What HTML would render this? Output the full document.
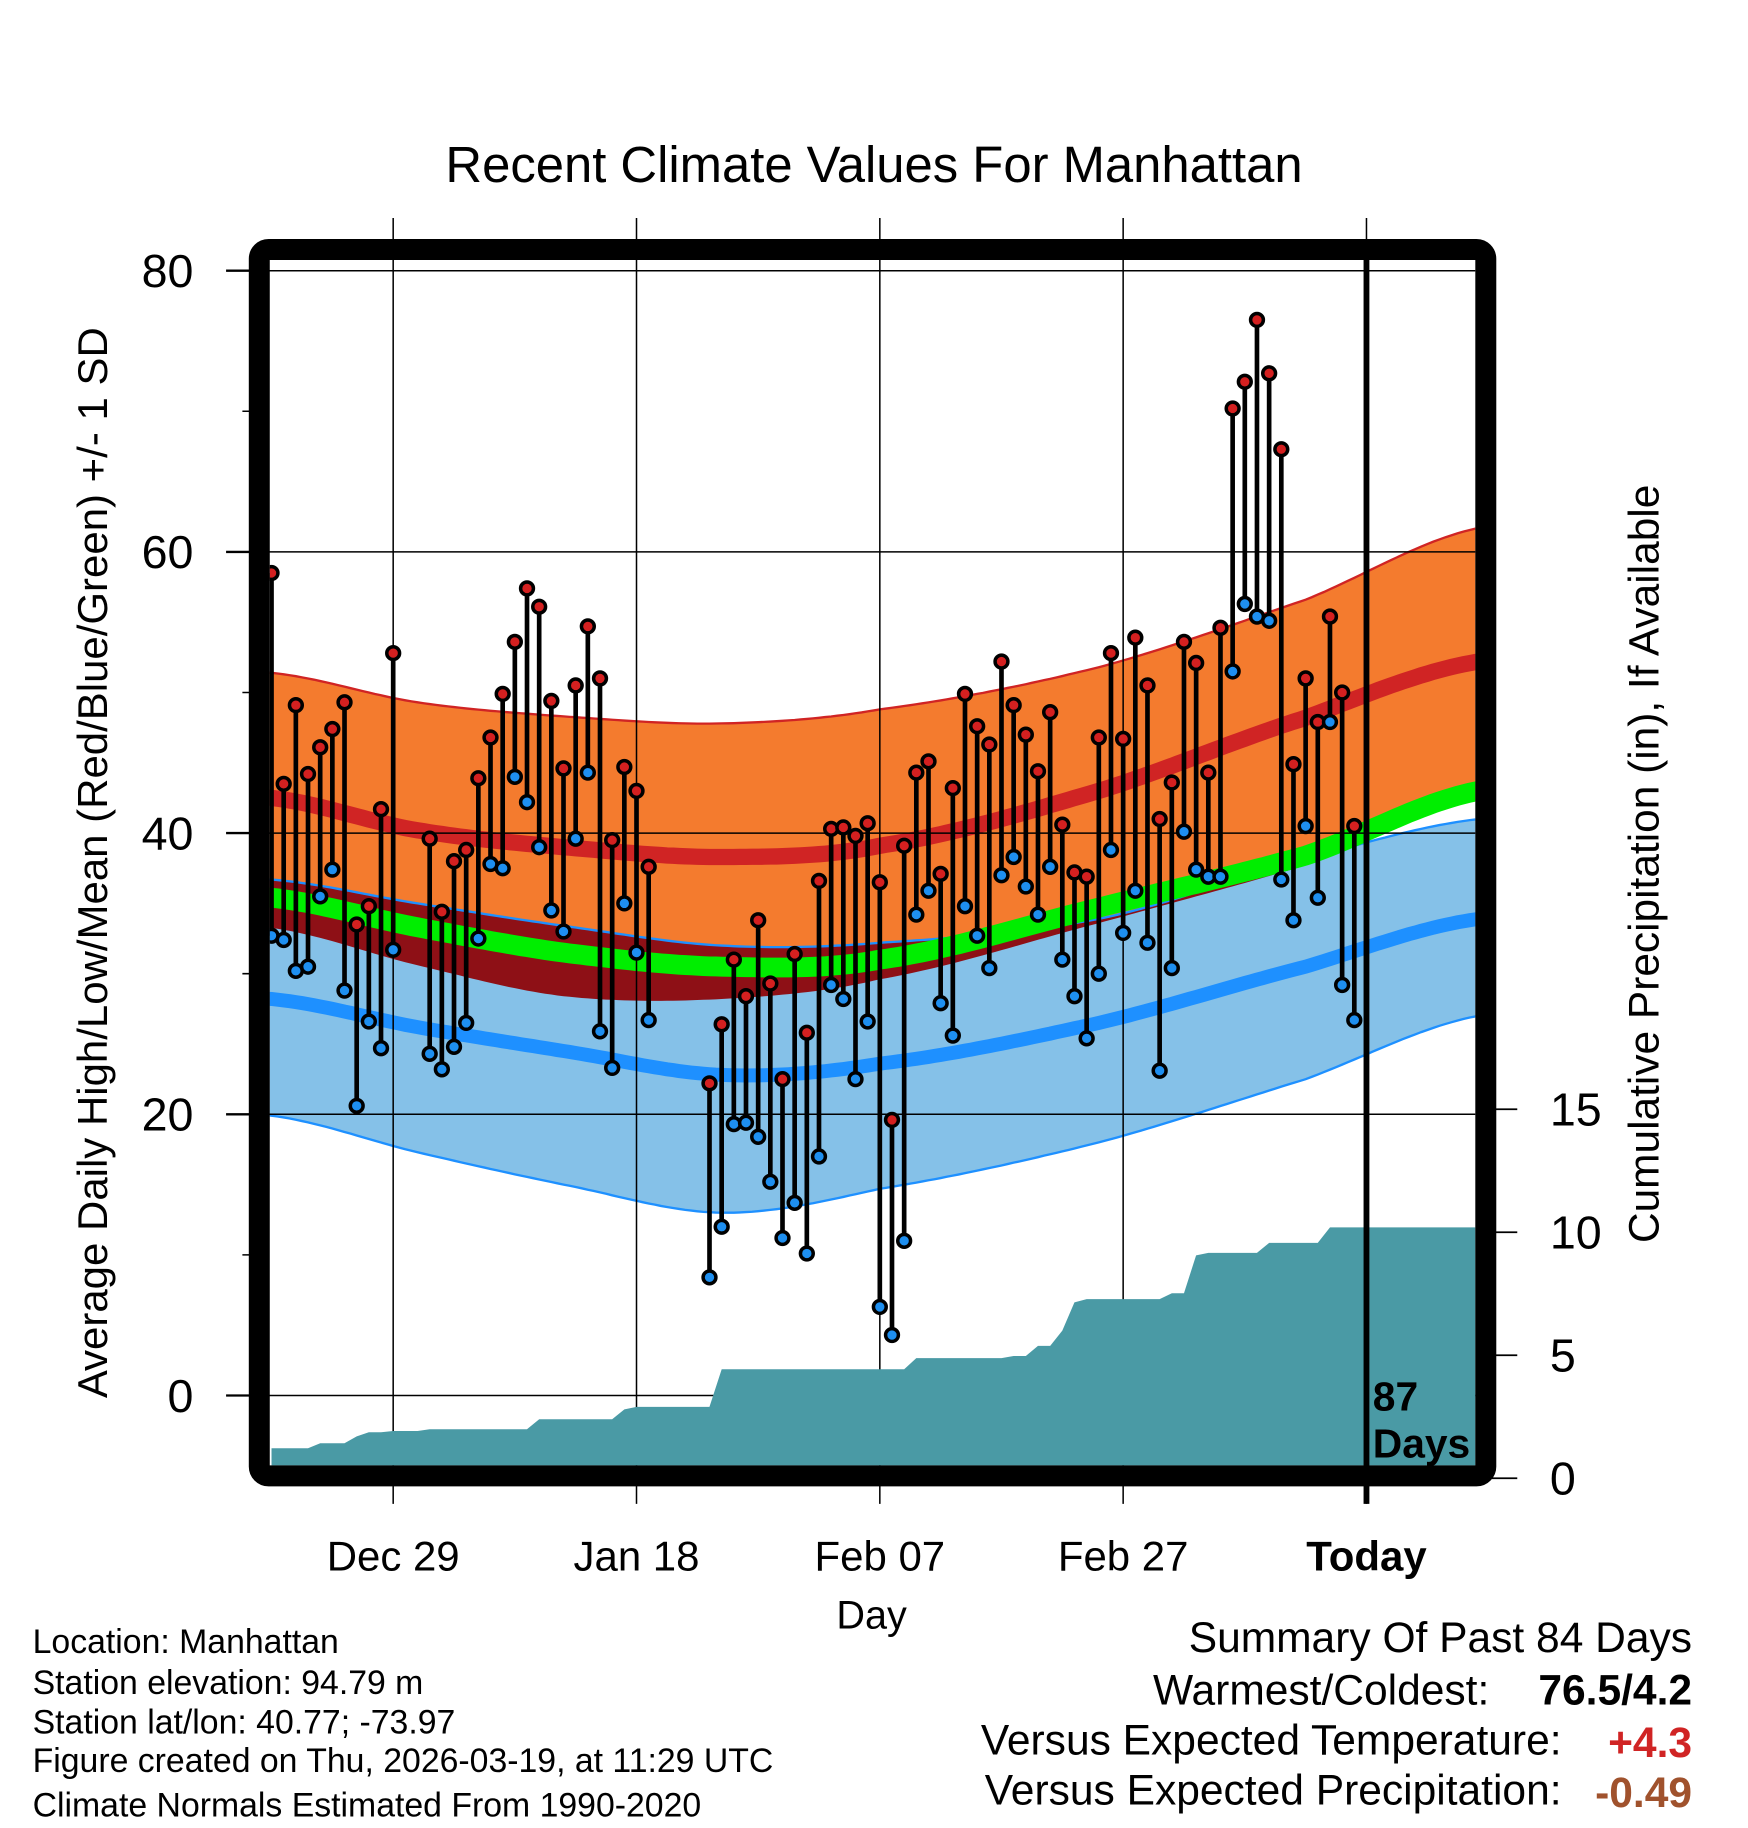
<!DOCTYPE html>
<html><head><meta charset="utf-8"><style>
html,body{margin:0;padding:0;background:#fff;}
svg{display:block;font-family:"Liberation Sans",Arial,sans-serif;}
</style></head><body>
<svg id="chart" width="1748" height="1828" viewBox="0 0 1500 1568" preserveAspectRatio="none" xmlns="http://www.w3.org/2000/svg">
<defs><clipPath id="plotClip"><rect x="231.5" y="223" width="1034.5" height="1034"/></clipPath></defs>
<rect width="1500" height="1568" fill="#fff"/>
<text x="750" y="156" font-size="43.6" text-anchor="middle">Recent Climate Values For Manhattan</text>
<g id="bands" clip-path="url(#plotClip)"></g>
<g id="grid"></g>
<g id="precip" clip-path="url(#plotClip)"></g>
<g id="obs" clip-path="url(#plotClip)"></g>
<rect x="222.5" y="214" width="1052.5" height="1052" rx="8" fill="none" stroke="#000" stroke-width="18"/>
<g id="axes"></g>
<text transform="translate(92,740) rotate(-90)" font-size="36" text-anchor="middle">Average Daily High/Low/Mean (Red/Blue/Green) +/- 1 SD</text>
<text transform="translate(1423,741) rotate(-90)" font-size="36.4" text-anchor="middle">Cumulative Precipitation (in), If Available</text>
<text x="748" y="1397" font-size="34" text-anchor="middle">Day</text>
<text x="1178" y="1210" font-size="35" font-weight="bold">87</text>
<text x="1178" y="1250" font-size="35" font-weight="bold">Days</text>
<g font-size="29">
<text x="28" y="1418">Location: Manhattan</text>
<text x="28" y="1453">Station elevation: 94.79 m</text>
<text x="28" y="1487">Station lat/lon: 40.77; -73.97</text>
<text x="28" y="1520">Figure created on Thu, 2026-03-19, at 11:29 UTC</text>
<text x="28" y="1558">Climate Normals Estimated From 1990-2020</text>
</g>
<g font-size="36.5" text-anchor="end">
<text x="1452" y="1417">Summary Of Past 84 Days</text>
<text x="1278" y="1462">Warmest/Coldest:</text>
<text x="1452" y="1462" font-weight="bold">76.5/4.2</text>
<text x="1340" y="1505">Versus Expected Temperature:</text>
<text x="1452" y="1507" font-weight="bold" fill="#d02424">+4.3</text>
<text x="1340" y="1548">Versus Expected Precipitation:</text>
<text x="1452" y="1550" font-weight="bold" fill="#a0522d">-0.49</text>
</g>
</svg>
<script>
var highs=[58.5,43.5,49.1,44.2,46.1,47.4,49.3,33.5,34.8,41.7,52.8,null,null,39.6,34.4,38,38.8,43.9,46.8,49.9,53.6,57.4,56.1,49.4,44.6,50.5,54.7,51,39.5,44.7,43,37.6,null,null,null,null,22.2,26.4,31,28.4,33.8,29.3,22.5,31.4,25.8,36.6,40.3,40.4,39.8,40.7,36.5,19.6,39.1,44.3,45.1,37.1,43.2,49.9,47.6,46.3,52.2,49.1,47,44.4,48.6,40.6,37.2,36.9,46.8,52.8,46.7,53.9,50.5,41,43.6,53.6,52.1,44.3,54.6,70.2,72.1,76.5,72.7,67.3,44.9,51,47.9,55.4,50,40.5];
var lows=[32.7,32.4,30.2,30.5,35.5,37.4,28.8,20.6,26.6,24.7,31.7,null,null,24.3,23.2,24.8,26.5,32.5,37.8,37.5,44,42.2,39,34.5,33,39.6,44.3,25.9,23.3,35,31.5,26.7,null,null,null,null,8.4,12,19.3,19.4,18.4,15.2,11.2,13.7,10.1,17,29.2,28.2,22.5,26.6,6.3,4.3,11,34.2,35.9,27.9,25.6,34.8,32.7,30.4,37,38.3,36.2,34.2,37.6,31,28.4,25.4,30,38.8,32.9,35.9,32.2,23.1,30.4,40.1,37.4,36.9,36.9,51.5,56.3,55.4,55.1,36.7,33.8,40.5,35.4,47.9,29.2,26.7];
var precip=[1.22,1.22,1.22,1.22,1.42,1.42,1.42,1.7,1.87,1.87,1.92,1.92,1.92,1.99,1.99,1.99,1.99,1.99,1.99,1.99,1.99,1.99,2.4,2.4,2.4,2.4,2.4,2.4,2.4,2.8,2.9,2.9,2.9,2.9,2.9,2.9,2.9,4.43,4.43,4.43,4.43,4.43,4.43,4.43,4.43,4.43,4.43,4.43,4.43,4.43,4.43,4.43,4.43,4.88,4.88,4.88,4.88,4.88,4.88,4.88,4.88,4.97,4.97,5.38,5.38,6.0,7.15,7.28,7.28,7.28,7.28,7.28,7.28,7.28,7.52,7.52,9.06,9.16,9.16,9.16,9.16,9.16,9.57,9.57,9.57,9.57,9.57,10.2,10.2,10.2,10.2,10.2,10.2,10.2,10.2,10.2,10.2,10.2,10.2,10.2];
var normDays=[0,12,24,37,50,68,85,99.2];
var highPlus=[51.4,49.3,48.3,47.8,48.8,51.8,56.6,61.7];
var highMean=[42.5,40.2,39.0,38.3,39.1,43.0,48.2,52.2];
var avgMean=[35.4,33.3,31.5,30.5,31.0,34.7,38.4,43.0];
var lowPlus=[36.7,35.0,33.4,32.0,32.2,33.9,38.1,41.0];
var highMinus=[33.25,30.6,28.4,28.2,29.6,33.6,37.7,42.3];
var lowMean=[28.2,26.2,24.5,22.8,23.6,26.5,30.5,33.9];
var lowMinus=[19.9,17.3,15.0,13.0,14.7,18.0,22.5,27.0];
var tempTicks=[0,20,40,60,80];
var tempTickLabels=["0","20","40","60","80"];
var minorTicks=[10,30,50,70];
var precipTicks=[0,5,10,15];
var precipTickLabels=["0","5","10","15"];
var dateTickDays=[10,30,50,70,90];
var dateTickLabels=["Dec 29","Jan 18","Feb 07","Feb 27","Today"];
var todayDay=90;

var NS="http://www.w3.org/2000/svg";
function xS(d){return 233+10.44*d;}
function yT(t){return 1197-12.06*t;}
function yP(p){return 1268-21.1*p;}
function mk(tag,attrs,parent){var e=document.createElementNS(NS,tag);for(var k in attrs)e.setAttribute(k,attrs[k]);parent.appendChild(e);return e;}
function interp(arr,d){
  var n=normDays.length,i=0;
  while(i<n-2&&d>normDays[i+1])i++;
  var t=(d-normDays[i])/(normDays[i+1]-normDays[i]);
  var p0=arr[Math.max(i-1,0)],p1=arr[i],p2=arr[i+1],p3=arr[Math.min(i+2,n-1)];
  return 0.5*((2*p1)+(-p0+p2)*t+(2*p0-5*p1+4*p2-p3)*t*t+(-p0+3*p1-3*p2+p3)*t*t*t);
}
var samples=[];for(var d=-1;d<=100;d+=0.5)samples.push(d);
function linePts(arr){return samples.map(function(d){return xS(d).toFixed(1)+","+yT(interp(arr,d)).toFixed(1);});}
function bandPath(topF,botF){
  var top=samples.map(function(d){return xS(d).toFixed(1)+","+yT(topF(d)).toFixed(1);});
  var bot=samples.slice().reverse().map(function(d){return xS(d).toFixed(1)+","+yT(botF(d)).toFixed(1);});
  return "M"+top.join("L")+"L"+bot.join("L")+"Z";
}
var bands=document.getElementById("bands");
var e;
e=mk("path",{d:bandPath(function(d){return interp(highPlus,d);},function(d){return interp(highMinus,d);}),fill:"#f47b2e"},bands);


e=mk("path",{d:bandPath(function(d){return interp(lowPlus,d);},function(d){return interp(lowMinus,d);}),fill:"#85c1e8"},bands);


e=mk("path",{d:bandPath(function(d){return interp(lowPlus,d);},function(d){return Math.min(interp(highMinus,d),interp(lowPlus,d));}),fill:"#8e1016"},bands);


e=mk("polyline",{points:linePts(highPlus).join(" "),fill:"none",stroke:"#d02424","stroke-width":2},bands);


e=mk("polyline",{points:linePts(lowPlus).join(" "),fill:"none",stroke:"#1e90ff","stroke-width":2},bands);


e=mk("polyline",{points:linePts(lowMinus).join(" "),fill:"none",stroke:"#1e90ff","stroke-width":2},bands);


e=mk("polyline",{points:linePts(highMean).join(" "),fill:"none",stroke:"#d02424","stroke-width":14},bands);


e=mk("polyline",{points:linePts(lowMean).join(" "),fill:"none",stroke:"#1e90ff","stroke-width":12},bands);


e=mk("polyline",{points:linePts(avgMean).join(" "),fill:"none",stroke:"#00ee00","stroke-width":17},bands);



var grid=document.getElementById("grid");
tempTicks.forEach(function(t){
  e=mk("line",{x1:231,x2:1266,y1:yT(t),y2:yT(t),stroke:"#000","stroke-width":1.3},grid);
  
  
});
dateTickDays.forEach(function(d){
  e=mk("line",{x1:xS(d),x2:xS(d),y1:187,y2:1290,stroke:"#000","stroke-width":1.3},grid);
  
  
});

var pg=document.getElementById("precip");
var pp=["M"+xS(0)+","+yP(0)];
precip.forEach(function(v,i){pp.push("L"+xS(i).toFixed(1)+","+yP(v).toFixed(1));});
pp.push("L"+xS(precip.length-1)+","+yP(0)+"Z");
e=mk("path",{d:pp.join(""),fill:"#4a9aa5"},pg);



var obs=document.getElementById("obs");
highs.forEach(function(h,i){
  var l=lows[i]; if(h==null||l==null)return;
  var s=mk("line",{x1:xS(i),x2:xS(i),y1:yT(h),y2:yT(l),stroke:"#000","stroke-width":4},obs);
  
  
});
highs.forEach(function(h,i){
  var l=lows[i]; if(h==null||l==null)return;
  var c1=mk("circle",{cx:xS(i),cy:yT(h),r:5.5,fill:"#d42020",stroke:"#000","stroke-width":3},obs);
  
  
  var c2=mk("circle",{cx:xS(i),cy:yT(l),r:5.5,fill:"#1e8ff0",stroke:"#000","stroke-width":3},obs);
  
  
});

var ax=document.getElementById("axes");
e=mk("line",{x1:xS(todayDay),x2:xS(todayDay),y1:215,y2:1290,stroke:"#000","stroke-width":5},ax);


tempTicks.forEach(function(t,i){
  e=mk("line",{x1:194,x2:222,y1:yT(t),y2:yT(t),stroke:"#000","stroke-width":2},ax);
  
  
  var tx=mk("text",{x:166,y:yT(t)+14,"font-size":40,"text-anchor":"end"},ax);
  tx.textContent=tempTickLabels[i];
  
  
});
minorTicks.forEach(function(t){
  e=mk("line",{x1:208,x2:222,y1:yT(t),y2:yT(t),stroke:"#000","stroke-width":1.3},ax);
  
  
});
precipTicks.forEach(function(p,i){
  e=mk("line",{x1:1276,x2:1302,y1:yP(p),y2:yP(p),stroke:"#000","stroke-width":1.5},ax);
  
  
  var tx=mk("text",{x:1330,y:yP(p)+14,"font-size":40},ax);
  tx.textContent=precipTickLabels[i];
  
  
});
dateTickDays.forEach(function(d,i){
  var tx=mk("text",{x:xS(d),y:1347,"font-size":36,"text-anchor":"middle"},ax);
  if(i===dateTickLabels.length-1)tx.setAttribute("font-weight","bold");
  tx.textContent=dateTickLabels[i];
  
  
});
</script>
</body></html>
